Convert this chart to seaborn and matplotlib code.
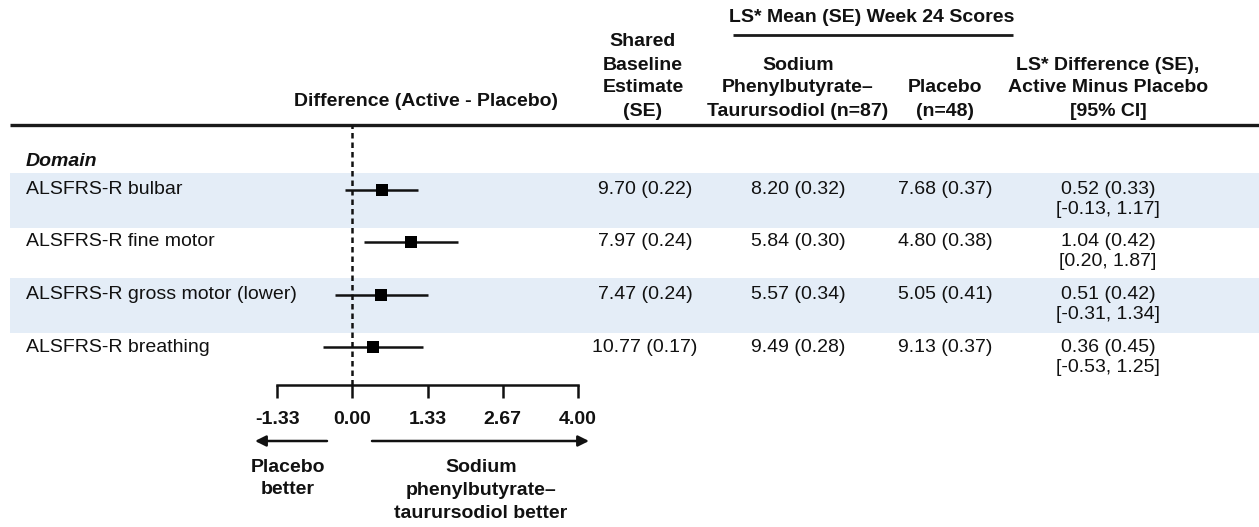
import numpy as np
import pandas as pd
import matplotlib
matplotlib.use("Agg")
import matplotlib.pyplot as plt
import seaborn as sns

# ---- data -------------------------------------------------------------
domains = ["ALSFRS-R bulbar", "ALSFRS-R fine motor",
           "ALSFRS-R gross motor (lower)", "ALSFRS-R breathing"]
baseline = [9.70, 7.97, 7.47, 10.77]
baseline_se = [0.22, 0.24, 0.24, 0.17]
active_mean = [8.20, 5.84, 5.57, 9.49]
active_se = [0.32, 0.30, 0.34, 0.28]
placebo_mean = [7.68, 4.80, 5.05, 9.13]
placebo_se = [0.37, 0.38, 0.41, 0.37]
diff = [0.52, 1.04, 0.51, 0.36]
diff_se = [0.33, 0.42, 0.42, 0.45]
ci_low = [-0.13, 0.20, -0.31, -0.53]
ci_high = [1.17, 1.87, 1.34, 1.25]
axis_ticks = [-4 / 3, 0.0, 4 / 3, 8 / 3, 4.0]
tick_labels = ["-1.33", "0.00", "1.33", "2.67", "4.00"]

# ---- style ------------------------------------------------------------
sns.set_theme(style="white")
plt.rcParams["font.family"] = ["Liberation Sans", "DejaVu Sans"]
FS = 14
BAND = "#E4EDF7"
INK = "#111111"

W, H = 1259, 527
fig = plt.figure(figsize=(W / 100, H / 100), dpi=100)

# background layer in pixel units for the table
bg = fig.add_axes([0, 0, 1, 1])
bg.set_xlim(0, W)
bg.set_ylim(H, 0)
bg.axis("off")

row_top0, row_pitch, band_h = 173, 52.5, 55
row_text = [row_top0 + 16.5 + row_pitch * i for i in range(len(domains))]

for i in range(len(domains)):
    if i % 2 == 0:
        top = row_top0 + row_pitch * i
        bg.fill_between([10, W], top, top + band_h, color=BAND, lw=0, zorder=0)

# header rule and spanner rule
bg.hlines(125, 10, W, color="#1a1a1a", lw=2.4, zorder=2)
bg.hlines(35, 733, 1013, color="#1a1a1a", lw=2.0, zorder=2)


def stack(x, lines, bottom, step=23, **kw):
    n = len(lines)
    for k, s in enumerate(lines):
        bg.text(x, bottom - step * (n - 1 - k), s, ha="center", va="center",
                fontsize=FS, fontweight="bold", color=INK, **kw)


bg.text(872, 17, "LS* Mean (SE) Week 24 Scores", ha="center", va="center",
        fontsize=FS, fontweight="bold", color=INK)
stack(643, ["Shared", "Baseline", "Estimate", "(SE)"], 111)
stack(798, ["Sodium", "Phenylbutyrate\u2013", "Taurursodiol (n=87)"], 111)
stack(945, ["Placebo", "(n=48)"], 111)
stack(1108, ["LS* Difference (SE),", "Active Minus Placebo", "[95% CI]"], 111)
bg.text(426, 101, "Difference (Active - Placebo)", ha="center", va="center",
        fontsize=FS, fontweight="bold", color=INK)

bg.text(26, 162, "Domain", ha="left", va="center", fontsize=FS,
        fontweight="bold", fontstyle="italic", color=INK)

for i, name in enumerate(domains):
    y = row_text[i]
    kw = dict(va="center", fontsize=FS, color=INK)
    bg.text(26, y, name, ha="left", **kw)
    bg.text(645, y, f"{baseline[i]:.2f} ({baseline_se[i]:.2f})", ha="center", **kw)
    bg.text(798, y, f"{active_mean[i]:.2f} ({active_se[i]:.2f})", ha="center", **kw)
    bg.text(945, y, f"{placebo_mean[i]:.2f} ({placebo_se[i]:.2f})", ha="center", **kw)
    bg.text(1108, y, f"{diff[i]:.2f} ({diff_se[i]:.2f})", ha="center", **kw)
    bg.text(1108, y + 20, f"[{ci_low[i]:.2f}, {ci_high[i]:.2f}]", ha="center", **kw)

# ---- forest panel -----------------------------------------------------
x0_px, x1_px = 277.3, 577.7
y_top_px, y_bot_px = 125, 385
ax = fig.add_axes([x0_px / W, 1 - y_bot_px / H,
                   (x1_px - x0_px) / W, (y_bot_px - y_top_px) / H])
ax.set_facecolor("none")
ax.set_xlim(axis_ticks[0], axis_ticks[-1])
ax.set_ylim(y_bot_px, y_top_px)

df = pd.DataFrame({"domain": domains, "diff": diff, "lo": ci_low,
                   "hi": ci_high, "y": row_text})
ax.axvline(0, color=INK, lw=1.8, dashes=(2.2, 1.6), zorder=1, clip_on=False)
ax.hlines(df["y"], df["lo"], df["hi"], color=INK, lw=1.8, zorder=2)
sns.scatterplot(data=df, x="diff", y="y", marker="s", s=70, color="black",
                edgecolor="black", linewidth=0, ax=ax, legend=False, zorder=3)

for side in ("top", "left", "right"):
    ax.spines[side].set_visible(False)
ax.spines["bottom"].set_linewidth(1.8)
ax.spines["bottom"].set_color(INK)
ax.set_yticks([])
ax.set_xticks(axis_ticks)
ax.set_xticklabels(tick_labels, fontsize=FS, fontweight="bold", color=INK)
ax.tick_params(axis="x", direction="out", length=9, width=1.8,
               color=INK, pad=10, bottom=True)
ax.set_xlabel("")
ax.set_ylabel("")

# direction arrows and their captions
arrow = dict(arrowstyle="-|>", lw=1.8, color=INK, mutation_scale=16,
             shrinkA=0, shrinkB=0)
bg.annotate("", xy=(255, 441), xytext=(327, 441), arrowprops=arrow)
bg.annotate("", xy=(589, 441), xytext=(372, 441), arrowprops=arrow)
for k, s in enumerate(["Placebo", "better"]):
    bg.text(288, 467 + 23 * k, s, ha="center", va="center", fontsize=FS,
            fontweight="bold", color=INK)
for k, s in enumerate(["Sodium", "phenylbutyrate\u2013", "taurursodiol better"]):
    bg.text(481, 467 + 23.5 * k, s, ha="center", va="center", fontsize=FS,
            fontweight="bold", color=INK)

fig.savefig("out.png", dpi=100)
